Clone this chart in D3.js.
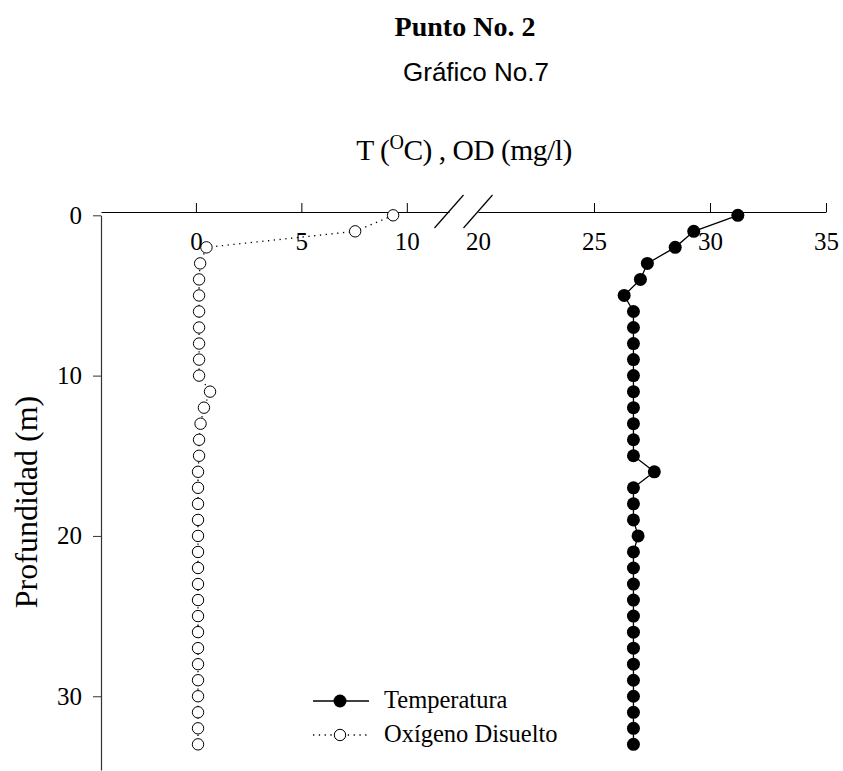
<!DOCTYPE html>
<html>
<head>
<meta charset="utf-8">
<script src="https://cdn.jsdelivr.net/npm/d3@7"></script>
<style>
  body { margin: 0; background: #fff; }
  svg { display: block; }
  text { font-family: "Liberation Serif", "Times New Roman", serif; fill: #000; }
</style>
</head>
<body>
<svg></svg>
<script>
var width = 843;
var height = 771;

// profundidad (m)
var profundidad = [0, 1, 2, 3, 4, 5, 6, 7, 8, 9, 10, 11, 12, 13, 14, 15, 16,
  17, 18, 19, 20, 21, 22, 23, 24, 25, 26, 27, 28, 29, 30, 31, 32, 33];
// temperatura (oC)
var temperatura = [31.2, 29.3, 28.5, 27.3, 27.0, 26.3, 26.7, 26.7, 26.7, 26.7,
  26.7, 26.7, 26.7, 26.7, 26.7, 26.7, 27.6, 26.7, 26.7, 26.7, 26.9, 26.7,
  26.7, 26.7, 26.7, 26.7, 26.7, 26.7, 26.7, 26.7, 26.7, 26.7, 26.7, 26.7];
// oxigeno disuelto (mg/l)
var oxigeno = [9.35, 7.55, 0.5, 0.2, 0.15, 0.15, 0.15, 0.15, 0.15, 0.15, 0.15,
  0.67, 0.38, 0.22, 0.15, 0.15, 0.1, 0.1, 0.1, 0.1, 0.1, 0.1, 0.1, 0.1, 0.1,
  0.1, 0.1, 0.1, 0.1, 0.1, 0.1, 0.1, 0.1, 0.1];

var odTicks = [0, 5, 10];
var tTicks = [20, 25, 30, 35];
var depthTicks = [0, 10, 20, 30];

var svg = d3.select("svg")
    .attr("width", width)
    .attr("height", height);

var axisY = 212;

var y = d3.scaleLinear().domain([0, 34.6]).range([215.3, 770]);
var xOD = d3.scaleLinear().domain([-4.5, 12]).range([101, 449]);
var xT = d3.scaleLinear().domain([20, 35]).range([478, 826]);

// titulos
svg.append("text")
    .attr("x", 465).attr("y", 36)
    .style("text-anchor", "middle")
    .style("font-weight", "bold")
    .style("font-size", "28px")
    .text("Punto No. 2");

svg.append("text")
    .attr("x", 476).attr("y", 81)
    .style("text-anchor", "middle")
    .style("font-family", "'Liberation Sans', Arial, sans-serif")
    .style("font-size", "26px")
    .text("Gráfico No.7");

var xTitle = svg.append("text")
    .attr("x", 464).attr("y", 160)
    .style("text-anchor", "middle")
    .style("font-size", "29.5px")
    .style("letter-spacing", "-0.5px");
xTitle.append("tspan").text("T (");
xTitle.append("tspan").attr("dy", -11).style("font-size", "20px").text("O");
xTitle.append("tspan").attr("dy", 11).text("C) , OD (mg/l)");

svg.append("text")
    .attr("transform", "translate(37, 502) rotate(-90)")
    .style("text-anchor", "middle")
    .style("font-size", "32px")
    .text("Profundidad (m)");

// ejes superiores (con corte)
function topAxis(scale, ticks) {
  var g = svg.append("g")
      .attr("transform", `translate(0, ${axisY})`)
      .call(d3.axisTop(scale).tickValues(ticks).tickSize(9).tickSizeOuter(0));
  g.select(".domain").attr("stroke", "#000").attr("stroke-width", 1.2);
  g.selectAll(".tick line").attr("stroke", "#000");
  g.selectAll(".tick text")
      .attr("y", 38)
      .attr("dy", null)
      .style("font-family", "'Liberation Serif', serif")
      .style("font-size", "25px")
      .attr("fill", "#000");
  return g;
}
topAxis(xOD, odTicks);
var gT = topAxis(xT, tTicks);
gT.selectAll(".tick").filter(d => d === 20).select("line").remove();

// marcas de corte
[xOD.range()[1], xT.range()[0]].forEach(function(cx) {
  svg.append("line")
      .attr("x1", cx - 14.5).attr("y1", axisY + 16)
      .attr("x2", cx + 14.5).attr("y2", axisY - 17)
      .attr("stroke", "#000")
      .attr("stroke-width", 1.2);
});

// eje de profundidad
var gY = svg.append("g")
    .attr("transform", "translate(101, 0)")
    .call(d3.axisLeft(y).tickValues(depthTicks).tickSize(8).tickSizeOuter(0).tickPadding(11));
gY.select(".domain").attr("stroke", "#333").attr("stroke-width", 1.2);
gY.selectAll(".tick line").attr("stroke", "#333");
gY.selectAll(".tick text")
    .style("font-family", "'Liberation Serif', serif")
    .style("font-size", "25px")
    .attr("fill", "#000");

// series
var odData = profundidad.map((p, i) => ({ p: p, v: oxigeno[i] }));
var tData = profundidad.map((p, i) => ({ p: p, v: temperatura[i] }));

svg.append("path")
    .datum(odData)
    .attr("fill", "none")
    .attr("stroke", "#000")
    .attr("stroke-width", 1.3)
    .attr("stroke-dasharray", "1.3,4.5")
    .attr("d", d3.line().x(d => xOD(d.v)).y(d => y(d.p)));

svg.append("path")
    .datum(tData)
    .attr("fill", "none")
    .attr("stroke", "#000")
    .attr("stroke-width", 1.3)
    .attr("d", d3.line().x(d => xT(d.v)).y(d => y(d.p)));

svg.selectAll(".od")
  .data(odData)
  .enter()
  .append("circle")
    .classed("od", true)
    .attr("cx", d => xOD(d.v))
    .attr("cy", d => y(d.p))
    .attr("r", 5.7)
    .attr("fill", "#fff")
    .attr("stroke", "#000")
    .attr("stroke-width", 1);

svg.selectAll(".temp")
  .data(tData)
  .enter()
  .append("circle")
    .classed("temp", true)
    .attr("cx", d => xT(d.v))
    .attr("cy", d => y(d.p))
    .attr("r", 6.5)
    .attr("fill", "#000");

// leyenda
var legend = svg.append("g").attr("transform", "translate(313, 701)");
legend.append("line")
    .attr("x1", 0).attr("x2", 56).attr("y1", 0).attr("y2", 0)
    .attr("stroke", "#000").attr("stroke-width", 1.3);
legend.append("circle").attr("cx", 27).attr("cy", 0).attr("r", 6.5).attr("fill", "#000");
legend.append("text").attr("x", 71).attr("y", 7).style("font-size", "24.5px").text("Temperatura");

legend.append("line")
    .attr("x1", 0).attr("x2", 56).attr("y1", 34).attr("y2", 34)
    .attr("stroke", "#000").attr("stroke-width", 1.3)
    .attr("stroke-dasharray", "1.3,4.5");
legend.append("circle").attr("cx", 27).attr("cy", 34).attr("r", 5.7)
    .attr("fill", "#fff").attr("stroke", "#000");
legend.append("text").attr("x", 71).attr("y", 41).style("font-size", "24.5px").text("Oxígeno Disuelto");
</script>
</body>
</html>
